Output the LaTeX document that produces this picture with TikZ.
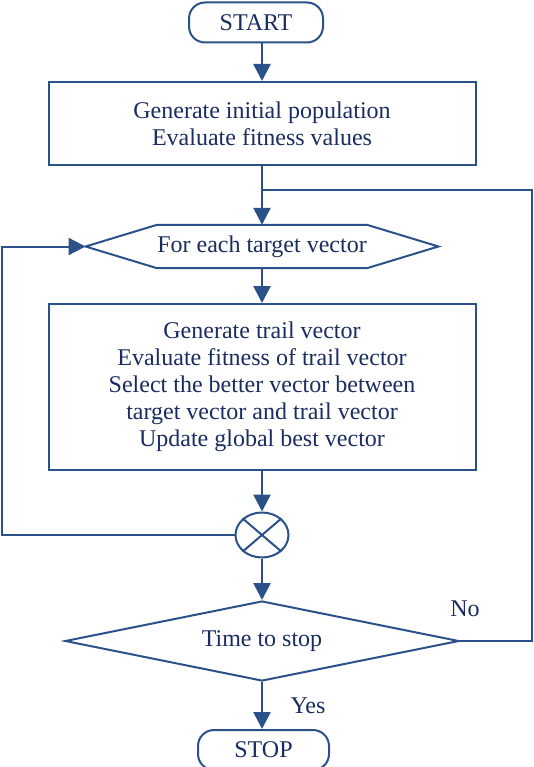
\documentclass[tikz,border=0pt]{standalone}
\usepackage{fontspec}
\setmainfont{Liberation Serif}
\usetikzlibrary{shapes.geometric,arrows.meta}
\definecolor{stroke}{HTML}{2A5288}
\definecolor{ink}{HTML}{1A2C60}
\tikzset{
  base/.style={draw=stroke, line width=2pt, line join=miter},
  flow/.style={base, line width=2.6pt, -{Triangle[width=17pt,length=17pt]}},
  txt/.style={text=ink, font=\fontsize{24}{27}\selectfont, align=center, inner sep=0pt},
  box/.style={base, txt, rectangle, minimum width=427pt},
  term/.style={base, txt, rectangle, rounded corners=16pt, minimum height=40pt},
  dec/.style={base, txt, diamond, aspect=4.8, minimum width=394pt, minimum height=80pt},
  crossnode/.style={base, ellipse, minimum width=53pt, minimum height=45pt},
  lab/.style={txt},
}
\begin{document}
\begin{tikzpicture}[x=1pt,y=-1pt]
  \useasboundingbox (0,0) rectangle (534,767);
  \def\tip{71.5pt}
  \node[term, minimum width=134pt] (start) at (256,22.5) {START};
  \node[box, minimum height=83pt] (init) at (262,123.5) {Generate initial population\\Evaluate fitness values};
  \node[txt, minimum width=209pt, minimum height=43pt] (each) at (262,246.5) {For each target vector};
  \draw[base] (each.north west) -- (each.north east) -- ([xshift=\tip]each.east)
    -- (each.south east) -- (each.south west) -- ([xshift=-\tip]each.west) -- cycle;
  \coordinate (eachL) at ([xshift=-\tip]each.west);
  \node[box, minimum height=166pt] (trail) at (262,387) {Generate trail vector\\Evaluate fitness of trail vector\\Select the better vector between\\target vector and trail vector\\Update global best vector};
  \node[crossnode] (x) at (262,535) {};
  \draw[base] (x.north west) -- (x.south east);
  \draw[base] (x.north east) -- (x.south west);
  \node[dec] (check) at (262,641) {Time to stop};
  \node[term, minimum width=131pt] (stop) at (263.5,750) {STOP};
  % main flow
  \draw[flow] (init.north |- start.south) -- (init);
  \draw[flow] (init) -- (each);
  \draw[flow] (each) -- (trail);
  \draw[flow] (trail) -- (x);
  \draw[flow] (x) -- (check);
  \draw[flow] (check) -- (check |- stop.north);
  % loops
  \coordinate (back) at (2,535);
  \coordinate (no) at (532,641);
  \draw[base, -{Triangle[width=17pt,length=17pt]}] (x.west) -- (back) |- (eachL);
  \draw[base] (check.east) -- (no) |- (262,190);
  \node[lab] (nolab) at (465,609) {No};
  \node[lab] (yeslab) at (308,706) {Yes};
\end{tikzpicture}
\end{document}
